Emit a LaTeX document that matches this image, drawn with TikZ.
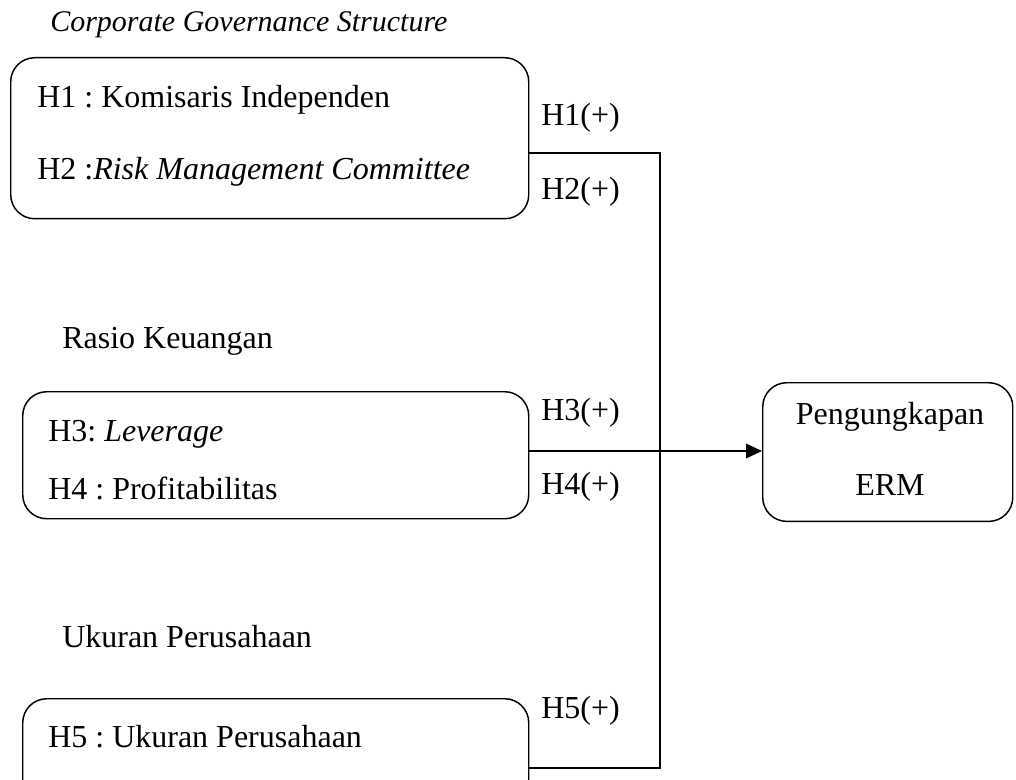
\documentclass[tikz,border=0pt]{standalone}
\usepackage{fontspec}
\setmainfont{Liberation Serif}
\usetikzlibrary{arrows.meta}
\frenchspacing
\begin{document}
\begin{tikzpicture}[x=0.75pt,y=-0.75pt,
  every node/.style={font=\fontsize{24}{28}\selectfont},
  box/.style={draw,line width=1.1pt,rounded corners=18pt,anchor=north west,inner sep=0pt},
  lbl/.style={anchor=base west,inner sep=0pt},
  conn/.style={line width=1.3pt}]
\useasboundingbox (0,0) rectangle (1016,780);
\clip (0,0) rectangle (1016,780);
% titles
\node[lbl,font=\fontsize{22.5}{27}\selectfont\itshape] (t1) at (50,32) {Corporate Governance Structure};
\node[lbl] (t2) at (62,349) {Rasio Keuangan};
\node[lbl] (t3) at (62,647) {Ukuran Perusahaan};
% boxes
\node[box,minimum width=388.5pt,minimum height=120.75pt] (b1) at (10,57) {};
\node[box,minimum width=379.5pt,minimum height=95.25pt] (b2) at (22,391) {};
\node[box,minimum width=379.5pt,minimum height=84pt] (b3) at (22,698) {};
\node[box,minimum width=187.5pt,minimum height=104pt] (erm) at (762,382) {};
% box texts
\node[lbl] (h1) at (37,108) {H1 : Komisaris Independen};
\node[lbl] (h2) at (37,180) {H2 :\textit{Risk Management Committee}};
\node[lbl] (h3) at (48,441) {H3: \textit{Leverage}};
\node[lbl] (h4) at (48,499) {H4 : Profitabilitas};
\node[lbl] (h5) at (48,747) {H5 : Ukuran Perusahaan};
\node[anchor=base,inner sep=0pt] (e1) at (890,424) {Pengungkapan};
\node[anchor=base,inner sep=0pt] (e2) at (890,495) {ERM};
% path labels
\node[lbl] (p1) at (541,126) {H1(+)};
\node[lbl] (p2) at (541,200) {H2(+)};
\node[lbl] (p3) at (541,420) {H3(+)};
\node[lbl] (p4) at (541,494) {H4(+)};
\node[lbl] (p5) at (541,718) {H5(+)};
% connectors
\coordinate (j1) at (660,153);
\coordinate (jm) at (660,451);
\coordinate (j5) at (660,768);
\draw[conn] (b1.east |- j1) -- (j1) -- (j5) -- (b3.east |- j5);
\draw[conn,-{Triangle[length=12pt,width=11pt]}] (b2.east |- jm) -- (erm.west |- jm);
\end{tikzpicture}
\end{document}
